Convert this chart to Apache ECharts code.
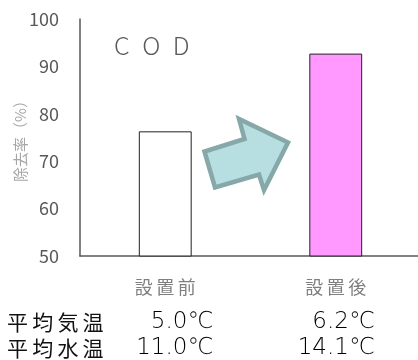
<!DOCTYPE html>
<html>
<head>
<meta charset="utf-8">
<script src="https://cdn.jsdelivr.net/npm/echarts@6/dist/echarts.min.js"></script>
<style>
html,body{margin:0;padding:0;background:#fff;}
#main{width:418px;height:360px;}
</style>
</head>
<body>
<div id="main"></div>
<script>
// Data
const categories = ['設置前', '設置後'];
const removalRate = [76.3, 92.7];
const yTicks = [50, 60, 70, 80, 90, 100];
const tableRowLabels = ['平均気温', '平均水温'];
const airTemp = ['5.0℃', '6.2℃'];
const waterTemp = ['11.0℃', '14.1℃'];
const barColors = ['#ffffff', '#ff99ff'];

const FONT = '"Noto Sans CJK JP", "Noto Sans", sans-serif';
const chart = echarts.init(document.getElementById('main'), null, {renderer: 'canvas'});

const option = {
  animation: false,
  backgroundColor: '#ffffff',
  textStyle: {fontFamily: FONT},
  grid: {left: 80, right: -3, top: 19, bottom: 104, containLabel: false, outerBoundsMode: 'none'},
  xAxis: {
    type: 'category',
    data: categories,
    axisLine: {show: true, lineStyle: {color: '#595959', width: 1.5}},
    axisTick: {show: false},
    axisLabel: {
      color: '#7f7f7f', fontSize: 18, margin: 22, fontFamily: FONT,
      formatter: v => v.split('').join('\u2009')
    }
  },
  yAxis: {
    type: 'value',
    min: yTicks[0], max: yTicks[yTicks.length - 1], interval: 10,
    name: '除去率（%）',
    nameLocation: 'middle',
    nameRotate: 90,
    nameGap: 52,
    nameMoveOverlap: false,
    nameTextStyle: {color: '#a6a6a6', fontSize: 15, fontFamily: FONT},
    axisLine: {show: true, lineStyle: {color: '#595959', width: 1.5}},
    axisTick: {show: false},
    splitLine: {show: false},
    axisLabel: {color: '#595959', fontSize: 18, margin: 21, fontFamily: FONT}
  },
  series: [{
    type: 'bar',
    barWidth: '31%',
    data: removalRate.map((v, i) => ({
      value: v,
      itemStyle: {color: barColors[i], borderColor: '#222222', borderWidth: 1}
    }))
  }]
};
chart.setOption(option);

// Decorations and table text
const x0 = chart.convertToPixel({xAxisIndex: 0}, 0);
const x1 = chart.convertToPixel({xAxisIndex: 0}, 1);
const valueRight = [x0 + 48, x1 + 39];
const rows = [airTemp, waterTemp];
const rowY = [322, 348];
const graphics = [];

graphics.push({
  type: 'text', left: 114, top: 33,
  style: {text: 'C\u2002O\u2002D', fontSize: 25, fill: '#595959', fontFamily: FONT, fontWeight: 300}
});

graphics.push({
  type: 'polygon',
  shape: {points: [[204.5, 151.5], [215, 187.5], [259, 174.5], [264, 190], [288, 142.5], [239, 119], [244.5, 139]]},
  style: {fill: '#b7dfe2', stroke: '#87a8a8', lineWidth: 4.5, lineJoin: 'miter'}
});

tableRowLabels.forEach((lab, r) => {
  graphics.push({
    type: 'text', x: 7, y: rowY[r],
    style: {text: lab.split('').join('\u2009'), fontSize: 21, fill: '#111', fontFamily: FONT, verticalAlign: 'middle', align: 'left'}
  });
  rows[r].forEach((val, c) => {
    graphics.push({
      type: 'text', x: valueRight[c], y: rowY[r],
      style: {text: val, fontSize: 23, fill: '#000', fontFamily: '"DejaVu Sans", "Noto Sans CJK JP", sans-serif', fontWeight: 200, verticalAlign: 'middle', align: 'right'}
    });
  });
});

chart.setOption({graphic: graphics});
</script>
</body>
</html>
